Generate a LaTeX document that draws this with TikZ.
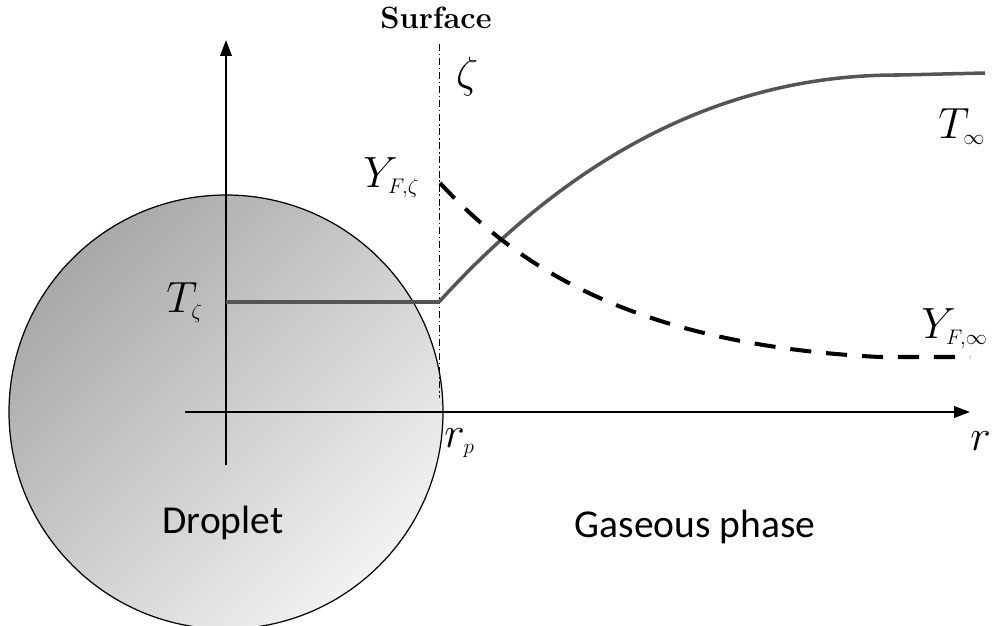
\documentclass[tikz,border=0pt]{standalone}
\usepackage{fontspec}
\newfontfamily\calibri{Carlito}
\usetikzlibrary{arrows.meta,positioning}
\definecolor{CurveGray}{HTML}{555555}
\DeclareMathSizes{23}{23}{12}{10}

\begin{document}
\begin{tikzpicture}[x=0.02cm, y=-0.02cm,
  axis/.style={line width=1.1pt, -{Triangle[length=9pt,width=6.5pt]}},
  tcurve/.style={draw=CurveGray, line width=2pt, line join=round},
  ycurve/.style={line width=2.3pt, dash pattern=on 12pt off 8.5pt},
  surf/.style={line width=0.5pt, dash pattern=on 4pt off 1.6pt on 0.8pt off 1.6pt},
  lbl/.style={font=\fontsize{23}{27}\selectfont, inner sep=0pt},
  phase/.style={font=\calibri\fontsize{22.5}{27}\selectfont, inner sep=0pt}]
\useasboundingbox (0,0) rectangle (992,626);
% droplet
\shade[draw=black, line width=0.7pt, top color=black!34, bottom color=black!5, shading angle=45] (226,412) circle (217);
% axes
\coordinate (o) at (226,412);
\draw[axis] (185,412) -- (970,412);
\draw[axis] (226,465) -- (226,40);
% surface
\draw[surf] (439,44) -- (439,398);
% profiles
\draw[tcurve] (226,302) -- (439,302) .. controls (550,180) and (700,74) .. (900,75) -- (985,73);
\draw[ycurve] (440,183) .. controls (520,270) and (640,345) .. (880,357) -- (970,357);
% labels
\node[font=\bfseries\fontsize{17.5}{20}\selectfont] (surface) at (436,18) {Surface};
\node[lbl] (zeta) at (467,77) {$\zeta$};
\node[lbl, anchor=base west] (yfz) at (363,187) {$Y_{F,\zeta}$};
\node[lbl, anchor=base west] (tz) at (166,312) {$T_\zeta$};
\node[lbl, anchor=base west] (tinf) at (938,138) {$T_\infty$};
\node[lbl, anchor=base west] (yfinf) at (921,338) {$Y_{F,\infty}$};
\node[lbl, anchor=base west] (rp) at (444,447) {$r_p$};
\node[lbl, anchor=base west] (r) at (970,450) {$r$};
\node[phase, anchor=base] (drop) at (223,533) {Droplet};
\node[phase, anchor=base] (gas) at (695,537) {Gaseous phase};
\end{tikzpicture}
\end{document}
